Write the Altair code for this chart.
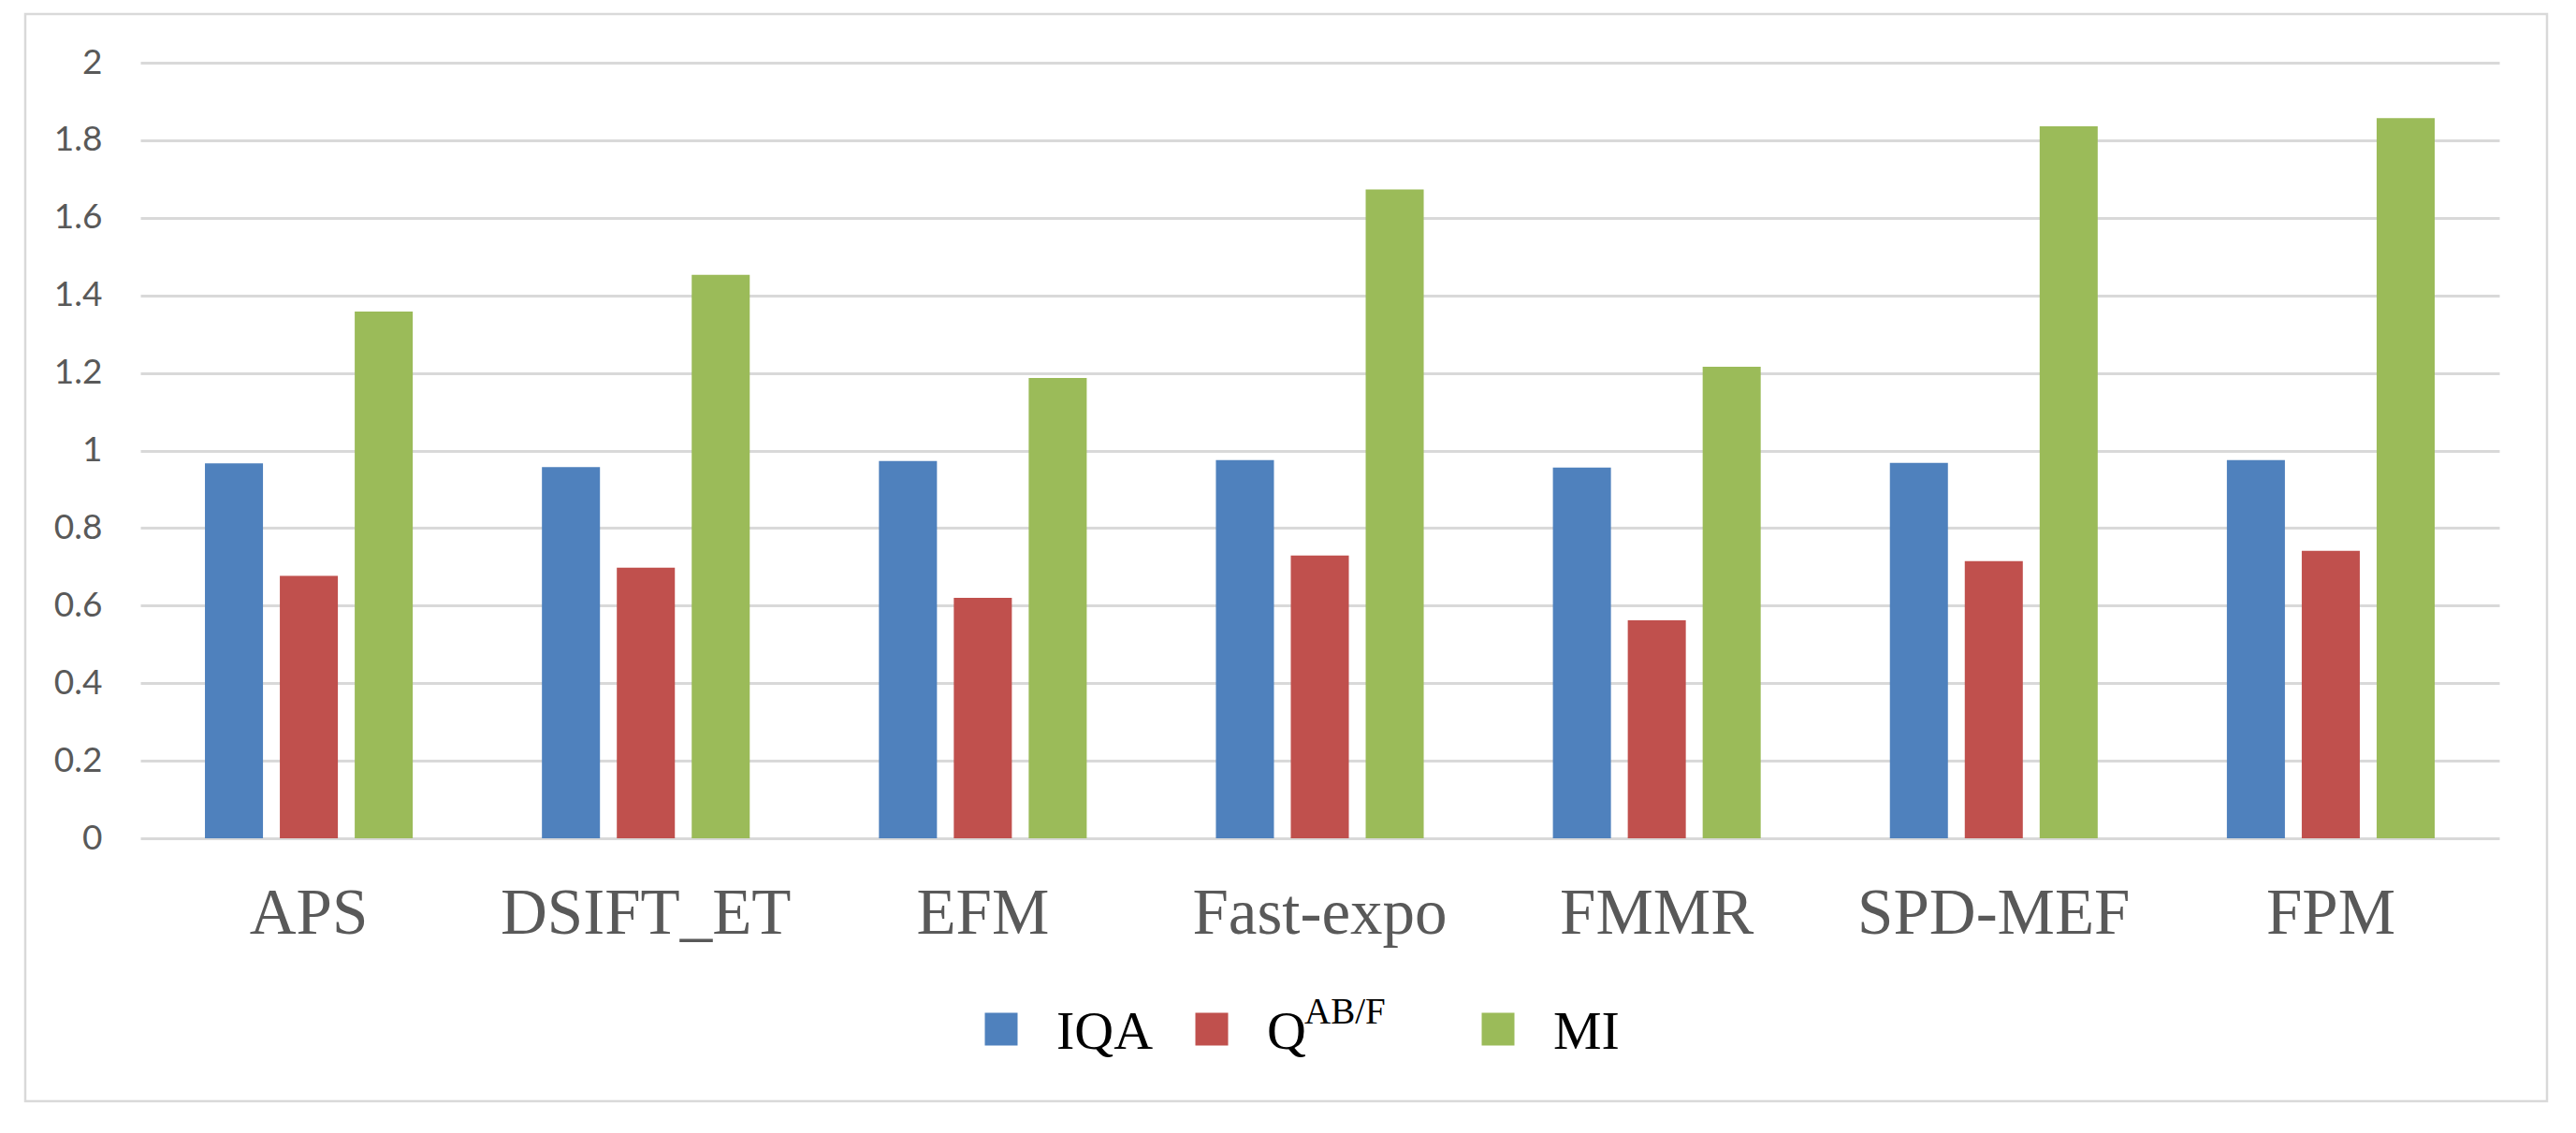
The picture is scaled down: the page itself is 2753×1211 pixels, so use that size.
import altair as alt
import pandas as pd

methods = ["APS", "DSIFT_ET", "EFM", "Fast-expo", "FMMR", "SPD-MEF", "FPM"]
series = ["IQA", "QABF", "MI"]
series_labels = ["IQA", "Q", "MI"]
iqa = [0.967, 0.957, 0.973, 0.975, 0.956, 0.968, 0.975]
qabf = [0.677, 0.698, 0.620, 0.729, 0.562, 0.715, 0.741]
mi = [1.358, 1.453, 1.187, 1.673, 1.216, 1.836, 1.857]
colors = ["#4F81BD", "#C0504D", "#9BBB59"]
y_ticks = [0, 0.2, 0.4, 0.6, 0.8, 1.0, 1.2, 1.4, 1.6, 1.8, 2.0]

rows = []
for name, vals in zip(series, [iqa, qabf, mi]):
    for m, v in zip(methods, vals):
        rows.append({"method": m, "series": name, "value": v})
df = pd.DataFrame(rows)

legend_df = pd.DataFrame({"series": series, "label": series_labels})

color_scale = alt.Scale(domain=series, range=colors)

bars = alt.Chart(df).mark_bar().encode(
    x=alt.X("method:N", sort=methods, title=None,
            scale=alt.Scale(paddingInner=1/3, paddingOuter=1/6),
            axis=alt.Axis(labelFont="Liberation Serif", labelFontSize=69,
                          labelColor="#595959", labelPadding=46, labelLimit=0,
                          labelAngle=0, domain=False, ticks=False, grid=False)),
    xOffset=alt.XOffset("series:N", sort=series,
                        scale=alt.Scale(paddingInner=0.225, paddingOuter=0.1125)),
    y=alt.Y("value:Q", title=None,
            scale=alt.Scale(domain=[0, 2], nice=False),
            axis=alt.Axis(values=y_ticks, format=".1~f", labelFont="Lato",
                          labelFontSize=37, labelColor="#595959",
                          labelPadding=41, domain=False, ticks=False,
                          grid=True, gridColor="#d9d9d9", gridWidth=3)),
    color=alt.Color("series:N", scale=color_scale, legend=None),
)

border = alt.Chart(pd.DataFrame({"a": [0]})).mark_rect(
    fillOpacity=0, stroke="#d9d9d9", strokeWidth=2.5
).encode(
    x=alt.value(-123), x2=alt.value(2572), y=alt.value(-52), y2=alt.value(1110)
)

# legend layout (pixel positions relative to the plot area)
swatch_x = [920, 1145, 1451]
text_x = [979, 1204, 1510]
legend_layers = []
for i, s in enumerate(series):
    base = alt.Chart(legend_df).transform_filter(alt.datum.series == s)
    legend_layers.append(
        base.mark_square(size=1225, opacity=1).encode(
            x=alt.value(swatch_x[i]), y=alt.value(1033),
            color=alt.Color("series:N", scale=color_scale, legend=None),
        )
    )
    legend_layers.append(
        base.mark_text(align="left", baseline="alphabetic",
                       font="Liberation Serif", fontSize=58, color="#000000").encode(
            x=alt.value(text_x[i]), y=alt.value(1054), text="label:N",
        )
    )

leg_sup = alt.Chart(pd.DataFrame({"t": ["AB/F"]})).mark_text(
    align="left", baseline="alphabetic", font="Liberation Serif",
    fontSize=39, color="#000000"
).encode(
    x=alt.value(1244), y=alt.value(1027), text="t:N"
)

chart = alt.layer(border, bars, *legend_layers, leg_sup).properties(
    width=2521, height=829,
    autosize=alt.AutoSizeParams(type="none"),
    padding={"left": 142, "top": 59, "right": 74, "bottom": 307},
    background="white",
).configure_view(strokeWidth=0)

chart.save("out.html", embed_options={"renderer": "svg", "actions": False})
